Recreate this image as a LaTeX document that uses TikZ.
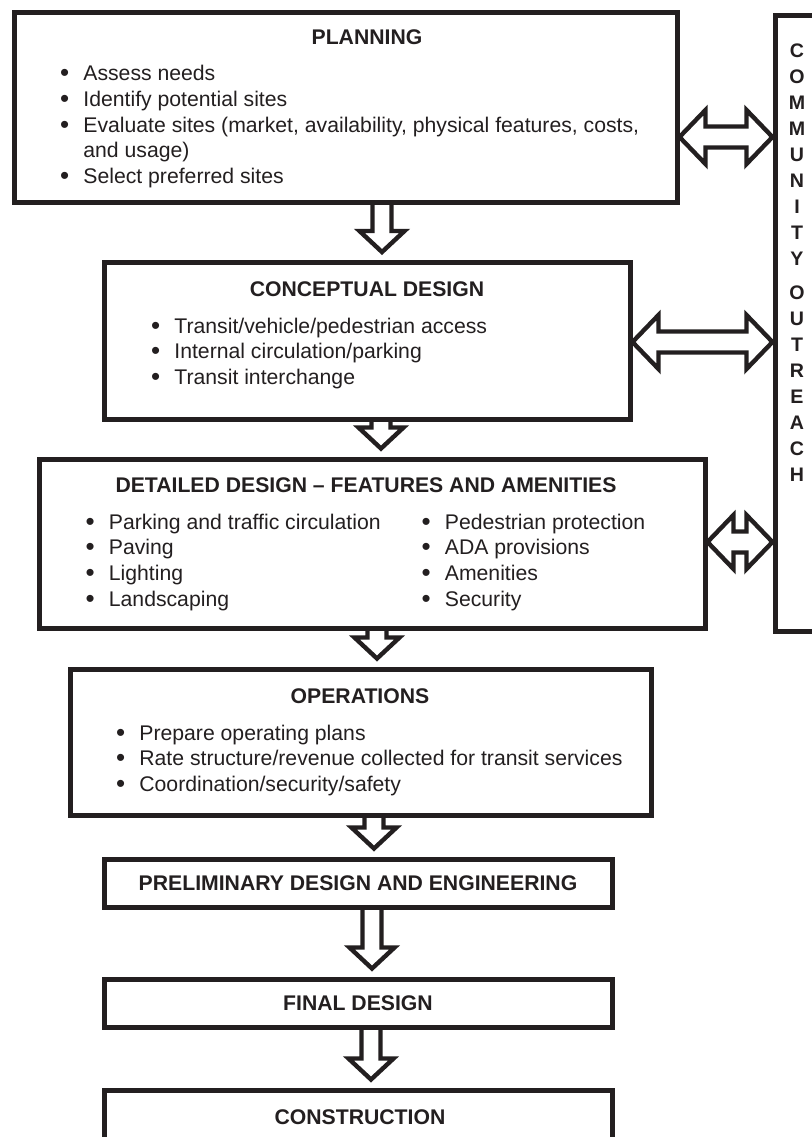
\documentclass[tikz,border=0pt]{standalone}
\usepackage{fontspec}
\setmainfont{Liberation Sans}
\usetikzlibrary{calc,positioning}
\definecolor{ink}{HTML}{231F20}

\newcommand{\bul}{\makebox[11.6pt][l]{\raisebox{-0.6pt}{\fontsize{13}{13}\selectfont\textbullet}}}
\newcommand{\flowdown}[3]{%
  \coordinate (s) at (#1.south -| #3,0);
  \coordinate (e) at ($(#2.north -| #3,0)+(0,-8)$);
  \draw[hollow] ($(s)+(-9.5,0)$) -- ($(e)+(-9.5,-21)$) -- ($(e)+(-22.5,-21)$) -- (e)
    -- ($(e)+(22.5,-21)$) -- ($(e)+(9.5,-21)$) -- ($(s)+(9.5,0)$);}
\newcommand{\flowboth}[3]{%
  \coordinate (a) at (#1.east |- 0,#3);
  \coordinate (b) at (#2.west |- 0,#3);
  \draw[hollow] (a) -- ($(a)+(26,-27)$) -- ($(a)+(26,-10.5)$) -- ($(b)+(-26,-10.5)$)
    -- ($(b)+(-26,-27)$) -- (b) -- ($(b)+(-26,27)$) -- ($(b)+(-26,10.5)$)
    -- ($(a)+(26,10.5)$) -- ($(a)+(26,27)$) -- cycle;}

\begin{document}
\begin{tikzpicture}[x=0.5pt,y=-0.5pt]
\tikzstyle{every node}=[font=\fontsize{10.6}{12.85}\selectfont,text=ink]
\tikzstyle{stage}=[draw=ink,line width=2.5pt,inner sep=0pt]
\tikzstyle{hollow}=[draw=ink,line width=2.2pt,line join=miter]
\tikzstyle{stagetitle}=[inner sep=0pt,font=\fontsize{10.6}{12.85}\selectfont\bfseries]
\tikzstyle{bullets}=[anchor=base west,inner sep=0pt]

\path[fill=white] (0,0) rectangle (812,1137);
\useasboundingbox (0,0) rectangle (812,1137);

\node[stage,minimum width=331.5pt,minimum height=95pt] (plan) at (345.5,107) {};
\node[stage,minimum width=38pt,minimum height=308pt] (comm) at (813,323) {};
\node[stage,minimum width=263pt,minimum height=78.25pt] (concept) at (367,340.75) {};
\node[stage,minimum width=333pt,minimum height=84.75pt] (detail) at (372,543.75) {};
\node[stage,minimum width=290.5pt,minimum height=73pt] (ops) at (360.5,742) {};
\node[stage,minimum width=254pt,minimum height=24.25pt,font=\fontsize{10.6}{12.85}\selectfont\bfseries] (prelim) at (358,883.25) {PRELIMINARY DESIGN AND ENGINEERING};
\node[stage,minimum width=254pt,minimum height=24pt,font=\fontsize{10.6}{12.85}\selectfont\bfseries] (final) at (358,1003) {FINAL DESIGN};
\node[stage,minimum width=254pt,minimum height=50pt] (constr) at (358,1140) {};

\node[stagetitle] (planT) at (367,37) {PLANNING};
\node[stagetitle] (conceptT) at (367,289) {CONCEPTUAL DESIGN};
\node[stagetitle] (detailT) at (366,485.5) {DETAILED DESIGN – FEATURES AND AMENITIES};
\node[stagetitle] (opsT) at (360,696) {OPERATIONS};
\node[stagetitle] (constrT) at (360,1117) {CONSTRUCTION};

\node[bullets] (planL) at (59.8,80.7) {\begin{tabular}[t]{@{}l@{}}
\bul Assess needs\\
\bul Identify potential sites\\
\bul Evaluate sites (market, availability, physical features, costs,\\
\hspace*{11.6pt}and usage)\\
\bul Select preferred sites\end{tabular}};
\node[bullets] (conceptL) at (150.8,333) {\begin{tabular}[t]{@{}l@{}}
\bul Transit/vehicle/pedestrian access\\
\bul Internal circulation/parking\\
\bul Transit interchange\end{tabular}};
\node[bullets] (detailL) at (85.3,529) {\begin{tabular}[t]{@{}l@{}}
\bul Parking and traffic circulation\\
\bul Paving\\
\bul Lighting\\
\bul Landscaping\end{tabular}};
\node[bullets] (detailR) at (421.3,529) {\begin{tabular}[t]{@{}l@{}}
\bul Pedestrian protection\\
\bul ADA provisions\\
\bul Amenities\\
\bul Security\end{tabular}};
\node[bullets] (opsL) at (115.8,740) {\begin{tabular}[t]{@{}l@{}}
\bul Prepare operating plans\\
\bul Rate structure/revenue collected for transit services\\
\bul Coordination/security/safety\end{tabular}};

\node[anchor=base,inner sep=0pt,font=\fontsize{9.8}{13}\selectfont\bfseries] (commT) at (797,57)
{\begin{tabular}[t]{@{}c@{}}C\\O\\M\\M\\U\\N\\I\\T\\Y\\[4pt]O\\U\\T\\R\\E\\A\\C\\H\end{tabular}};

\flowdown{plan}{concept}{382}
\flowdown{concept}{detail}{381}
\flowdown{detail}{ops}{377}
\flowdown{ops}{prelim}{374}
\flowdown{prelim}{final}{372}
\flowdown{final}{constr}{371}
\flowboth{plan}{comm}{137}
\flowboth{concept}{comm}{342}
\flowboth{detail}{comm}{542}
\end{tikzpicture}
\end{document}
